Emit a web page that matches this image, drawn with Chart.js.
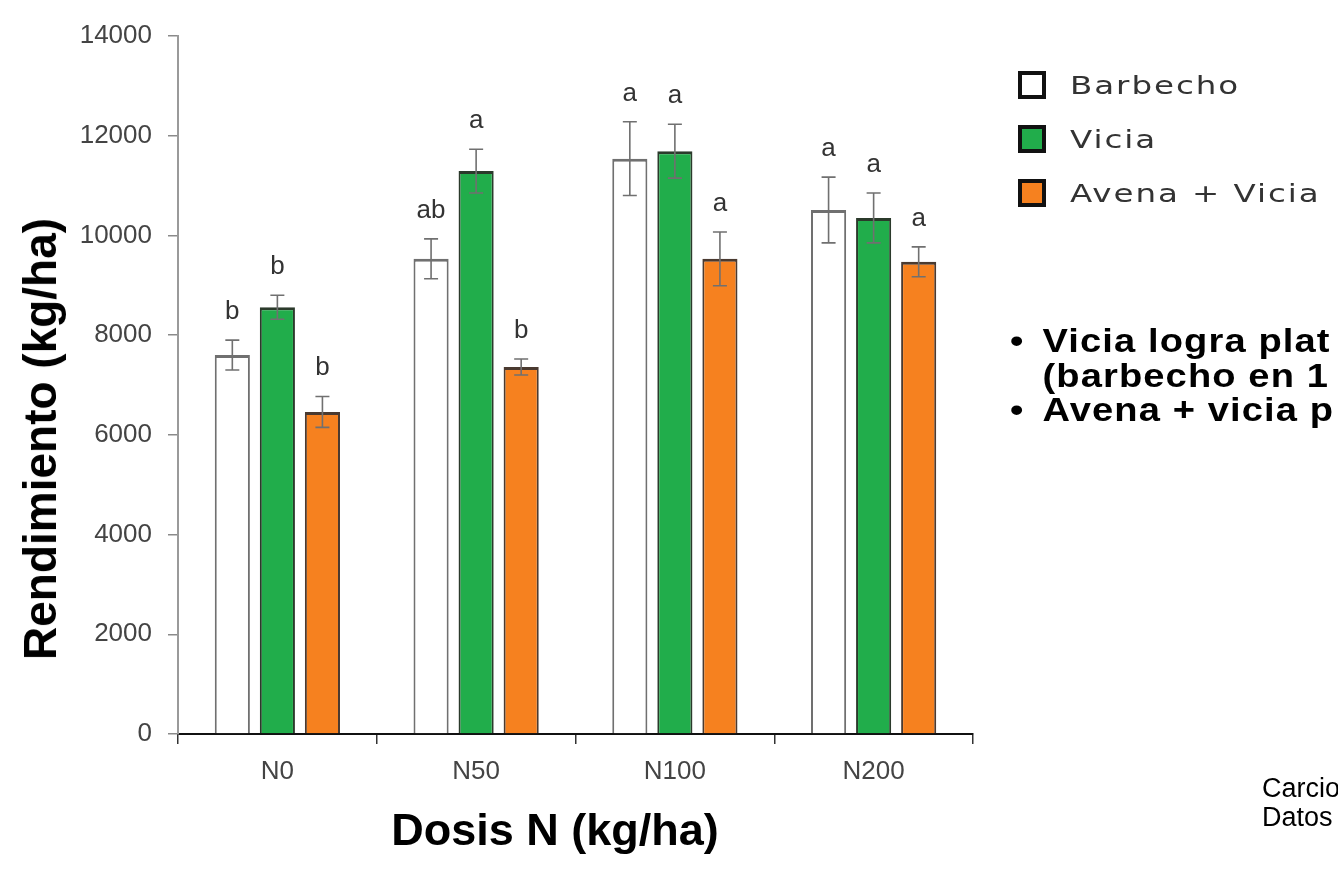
<!DOCTYPE html>
<html>
<head>
<meta charset="utf-8">
<script src="https://cdn.jsdelivr.net/npm/chart.js@4.4.0/dist/chart.umd.min.js"></script>
<style>
  html, body { margin: 0; padding: 0; background: #fff; }
  body { width: 1338px; height: 880px; position: relative; overflow: hidden; font-family: "Liberation Sans", Arial, sans-serif; }
  #chart { position: absolute; left: 0; top: 0; }
  .ytitle { position: absolute; left: 40px; top: 439px; transform: translate(-50%, -50%) rotate(-90deg); font-weight: bold; font-size: 46px; white-space: nowrap; color: #000; }
  .xtitle { position: absolute; left: 555px; top: 830px; transform: translate(-50%, -50%); font-weight: bold; font-size: 45px; white-space: nowrap; color: #000; }
  .legend { position: absolute; left: 1018px; top: 58px; font-family: "DejaVu Sans", Verdana, sans-serif; font-size: 25px; color: #333; }
  .legend div { height: 54px; display: flex; align-items: center; white-space: nowrap; }
  .legend span.box { width: 20px; height: 20px; border: 4px solid #111; margin-right: 24px; box-sizing: content-box; flex: none; }
  .legend span.txt { display: inline-block; letter-spacing: 1.5px; transform: scaleX(1.3); transform-origin: left center; }
  .notes { position: absolute; left: 1010px; top: 323px; font-weight: bold; font-size: 34px; line-height: 34.5px; letter-spacing: 1px; color: #000; white-space: nowrap; transform: scaleX(1.12); transform-origin: left top; }
  .notes p { margin: 0; }
  .notes .b { display: inline-block; width: 29px; }
  .ref { position: absolute; left: 1262px; top: 774px; font-size: 27px; line-height: 29px; color: #000; white-space: nowrap; }
</style>
</head>
<body>
<canvas id="chart" width="1338" height="880"></canvas>
<div class="ytitle">Rendimiento (kg/ha)</div>
<div class="xtitle">Dosis N (kg/ha)</div>
<div class="legend" id="legend"></div>
<div class="notes">
  <p><span class="b">•</span>Vicia logra plat</p>
  <p><span class="b"></span>(barbecho en 1</p>
  <p><span class="b">•</span>Avena + vicia p</p>
</div>
<div class="ref">Carcio<br>Datos</div>
<script>
// datos
const categories = ['N0', 'N50', 'N100', 'N200'];
const seriesNames = ['Barbecho', 'Vicia', 'Avena + Vicia'];
const barbecho = [7600, 9530, 11540, 10510];
const vicia = [8560, 11290, 11690, 10350];
const avenaVicia = [6460, 7360, 9530, 9470];
const barbechoErr = [300, 400, 740, 660];
const viciaErr = [240, 440, 540, 500];
const avenaViciaErr = [310, 160, 540, 300];
const barbechoLetters = ['b', 'ab', 'a', 'a'];
const viciaLetters = ['b', 'a', 'a', 'a'];
const avenaViciaLetters = ['b', 'b', 'a', 'a'];
const yTicks = [0, 2000, 4000, 6000, 8000, 10000, 12000, 14000];

const colors = ['#ffffff', '#21ad4b', '#f6811f'];
const borders = ['#707070', '#2b3a2b', '#4a3a30'];
const errors = [barbechoErr, viciaErr, avenaViciaErr];
const letters = [barbechoLetters, viciaLetters, avenaViciaLetters];

const tickFont = { family: "'Liberation Sans Narrow', 'Arial Narrow', 'Liberation Sans', sans-serif", size: 26 };

// leyenda en html
const legendEl = document.getElementById('legend');
seriesNames.forEach((name, i) => {
    const row = document.createElement('div');
    row.innerHTML = `<span class="box" style="background:${colors[i]}"></span><span class="txt">${name}</span>`;
    legendEl.appendChild(row);
});

// barras de error y letras
const errorBarPlugin = {
    id: 'errorBars',
    afterDatasetsDraw(chart) {
        const ctx = chart.ctx;
        const yScale = chart.scales.y;
        chart.data.datasets.forEach((ds, di) => {
            const meta = chart.getDatasetMeta(di);
            meta.data.forEach((bar, i) => {
                const v = ds.data[i];
                const e = errors[di][i];
                const top = yScale.getPixelForValue(v + e);
                const bot = yScale.getPixelForValue(v - e);
                ctx.save();
                ctx.strokeStyle = '#707070';
                ctx.lineWidth = 1.6;
                ctx.beginPath();
                ctx.moveTo(bar.x, top);
                ctx.lineTo(bar.x, bot);
                ctx.moveTo(bar.x - 7, top);
                ctx.lineTo(bar.x + 7, top);
                ctx.moveTo(bar.x - 7, bot);
                ctx.lineTo(bar.x + 7, bot);
                ctx.stroke();
                ctx.fillStyle = '#333';
                ctx.font = `${tickFont.size}px ${tickFont.family}`;
                ctx.textAlign = 'center';
                ctx.textBaseline = 'alphabetic';
                ctx.fillText(letters[di][i], bar.x, top - 21);
                ctx.restore();
            });
        });
    }
};

new Chart(document.getElementById('chart').getContext('2d'), {
    type: 'bar',
    data: {
        labels: categories,
        datasets: [barbecho, vicia, avenaVicia].map((d, i) => ({
            label: seriesNames[i],
            data: d,
            backgroundColor: colors[i],
            borderColor: borders[i],
            borderWidth: { top: 3, left: 2, right: 2, bottom: 0 },
            borderSkipped: 'bottom',
            categoryPercentage: 0.68,
            barPercentage: 0.78
        }))
    },
    options: {
        responsive: false,
        animation: false,
        layout: { padding: { top: 36, right: 365, bottom: 0, left: 0 } },
        plugins: { legend: { display: false }, tooltip: { enabled: false } },
        scales: {
            x: {
                afterFit: (scale) => { scale.height = 146; },
                grid: { offset: true, drawOnChartArea: false, drawTicks: true, tickLength: 10, color: '#333', lineWidth: 1.5 },
                border: { display: true, color: '#111', width: 2 },
                ticks: { color: '#444', font: tickFont, padding: 12 }
            },
            y: {
                min: 0,
                max: 14000,
                afterFit: (scale) => { scale.width = 178; },
                afterBuildTicks: (scale) => { scale.ticks = yTicks.map(v => ({ value: v })); },
                grid: { drawOnChartArea: false, drawTicks: true, tickLength: 10, color: '#8a8a8a', lineWidth: 1.5 },
                border: { display: true, color: '#9a9a9a', width: 2 },
                ticks: { color: '#444', font: tickFont, padding: 16, callback: (v) => String(v) }
            }
        }
    },
    plugins: [errorBarPlugin]
});
</script>
</body>
</html>
